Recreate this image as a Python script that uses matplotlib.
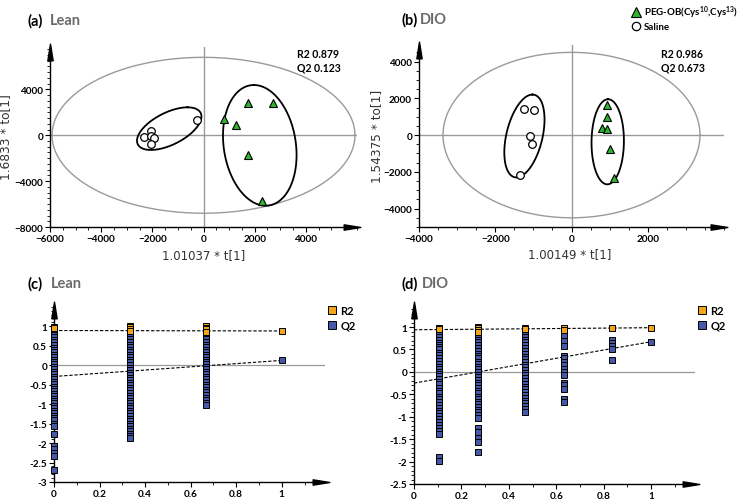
import numpy as np
import matplotlib
matplotlib.use("Agg")
import matplotlib.pyplot as plt
from matplotlib.lines import Line2D
from matplotlib.path import Path
from matplotlib.ticker import MultipleLocator, FormatStrFormatter

plt.rcParams["font.family"] = ["Lato", "DejaVu Sans"]
plt.rcParams["mathtext.default"] = "regular"

# ---------------- score plots: (a) Lean, (b) DIO ----------------
lean_saline_x = [-260, -2050, -2330, -2050, -1950, -2050]
lean_saline_y = [1340, 380, -150, -100, -250, -780]
lean_peg_x = [1750, 2710, 810, 1280, 1750, 2300]
lean_peg_y = [2780, 2780, 1400, 940, -1750, -5760]

dio_saline_x = [-1255, -985, -1080, -1040, -1360]
dio_saline_y = [1420, 1380, -50, -510, -2150]
dio_peg_x = [940, 940, 800, 940, 1010, 1110]
dio_peg_y = [1640, 1000, 370, 330, -780, -2310]

lean_r2q2 = (0.879, 0.123)
dio_r2q2 = (0.986, 0.673)

# Hotelling T2 ellipse half-widths (x, y)
lean_t2 = (5920, 6800)
dio_t2 = (3370, 4500)

# group ellipses: centre + two conjugate half-diameters
lean_saline_ell = [(-1340, 580), (715, 1860), (1037, 0)]
lean_peg_ell = [(2200, -880), (-230, 5265), (1420, 0)]
dio_saline_ell = [(-1235, -50), (210, 2255), (484, 0)]
dio_peg_ell = [(950, -365), (10, 2315), (425, 0)]

# ---------------- permutation plots: (c) Lean, (d) DIO ----------------
lean_perm_x = [0.0, 0.333, 0.667]
lean_perm_r2 = [
    [0.98, 0.95],
    [1.0, 0.97, 0.93, 0.88],
    [1.0, 0.96, 0.92, 0.86],
]
lean_perm_q2 = [
    [0.9, 0.85, 0.78, 0.72, 0.65, 0.6, 0.52, 0.45, 0.4, 0.33, 0.27, 0.2, 0.13,
     0.08, 0.02, -0.05, -0.1, -0.17, -0.22, -0.3, -0.36, -0.42, -0.48, -0.55,
     -0.6, -0.67, -0.73, -0.8, -0.86, -0.92, -0.98, -1.05, -1.1, -1.17, -1.23,
     -1.3, -1.36, -1.42, -1.5, -1.55, -1.76, -2.08, -2.15, -2.25, -2.32, -2.68],
    [0.92, 0.86, 0.8, 0.73, 0.66, 0.6, 0.53, 0.47, 0.4, 0.33, 0.27, 0.2, 0.14,
     0.07, 0.0, -0.06, -0.13, -0.2, -0.26, -0.33, -0.39, -0.46, -0.52, -0.59,
     -0.65, -0.72, -0.78, -0.85, -0.91, -0.98, -1.04, -1.11, -1.17, -1.24,
     -1.3, -1.37, -1.43, -1.5, -1.56, -1.63, -1.69, -1.76, -1.82, -1.88],
    [0.72, 0.66, 0.6, 0.53, 0.47, 0.4, 0.34, 0.27, 0.2, 0.14, 0.08, 0.02,
     -0.04, -0.1, -0.17, -0.23, -0.3, -0.36, -0.43, -0.5, -0.56, -0.63, -0.7,
     -0.76, -0.83, -0.9, -0.97, -1.02],
]
lean_intercepts = (0.89, -0.29)
lean_yticks = [-3, -2.5, -2, -1.5, -1, -0.5, 0, 0.5, 1]

dio_perm_x = [0.104, 0.27, 0.468, 0.634, 0.834]
dio_perm_r2 = [
    [0.99, 0.96],
    [1.0, 0.97, 0.94, 0.9],
    [0.99, 0.96],
    [0.99, 0.94],
    [0.99, 0.97],
]
dio_perm_q2 = [
    [0.85, 0.78, 0.72, 0.65, 0.6, 0.55, 0.5, 0.42, 0.37, 0.3, 0.25, 0.18, 0.12,
     0.06, 0.0, -0.05, -0.1, -0.15, -0.22, -0.28, -0.35, -0.42, -0.48, -0.55,
     -0.6, -0.67, -0.73, -0.8, -0.87, -0.92, -0.98, -1.05, -1.12, -1.18,
     -1.25, -1.32, -1.38, -1.9, -1.98],
    [0.78, 0.72, 0.66, 0.6, 0.53, 0.47, 0.4, 0.35, 0.3, 0.23, 0.18, 0.12, 0.06,
     0.0, -0.06, -0.12, -0.18, -0.24, -0.3, -0.36, -0.42, -0.48, -0.55, -0.6,
     -0.66, -0.72, -0.78, -0.85, -0.9, -0.96, -1.03, -1.25, -1.33, -1.48,
     -1.57, -1.78],
    [0.85, 0.78, 0.72, 0.66, 0.6, 0.53, 0.47, 0.4, 0.34, 0.28, 0.22, 0.16, 0.1,
     0.04, -0.02, -0.08, -0.14, -0.2, -0.26, -0.33, -0.39, -0.45, -0.52,
     -0.58, -0.64, -0.7, -0.77, -0.83, -0.9],
    [0.8, 0.7, 0.57, 0.35, 0.3, 0.22, 0.15, 0.07, 0.0, -0.06, -0.24, -0.3,
     -0.38, -0.6, -0.67],
    [0.72, 0.64, 0.57, 0.5, 0.27],
]
dio_intercepts = (0.94, -0.25)
dio_yticks = [-2.5, -2, -1.5, -1, -0.5, 0, 0.5, 1]

perm_xticks = [0, 0.2, 0.4, 0.6, 0.8, 1]

GREEN = "#2fb52f"
ORANGE = "#f2a51a"
BLUE = "#4658aa"
GREY_T = "#6b6b6b"

W, H = 738, 502
fig = plt.figure(figsize=(W / 100, H / 100), dpi=100)


def px_axes(left, top, right, bottom):
    return fig.add_axes([left / W, 1 - bottom / H, (right - left) / W, (bottom - top) / H])


# long thin arrow heads
arrow_r = Path([(-1, -0.32), (1, 0), (-1, 0.32), (-1, -0.32)],
               [Path.MOVETO, Path.LINETO, Path.LINETO, Path.CLOSEPOLY])
arrow_u = Path([(-0.32, -1), (0, 1), (0.32, -1), (-0.32, -1)],
               [Path.MOVETO, Path.LINETO, Path.LINETO, Path.CLOSEPOLY])


def style_axes(ax):
    for s in ["top", "right"]:
        ax.spines[s].set_visible(False)
    ax.spines["left"].set_linewidth(1.0)
    ax.spines["bottom"].set_linewidth(1.0)
    ax.tick_params(which="major", direction="out", length=3.5, width=0.8,
                   labelsize=7.2, pad=1.5)
    ax.tick_params(which="minor", direction="out", length=2, width=0.6)
    for lab in ax.get_xticklabels() + ax.get_yticklabels():
        lab.set_fontweight("bold")
    ax.plot(0.985, 0, marker=arrow_r, ms=12, color="k", transform=ax.transAxes,
            clip_on=False, zorder=6)
    ax.plot(0, 0.975, marker=arrow_u, ms=12, color="k", transform=ax.transAxes,
            clip_on=False, zorder=6)


def draw_ellipse(ax, ell, **kw):
    (cx, cy), u, v = ell
    t = np.linspace(0, 2 * np.pi, 300)
    ax.plot(cx + u[0] * np.cos(t) + v[0] * np.sin(t),
            cy + u[1] * np.cos(t) + v[1] * np.sin(t), **kw)


def score_panel(ax, sal_x, sal_y, peg_x, peg_y, t2, ells, r2q2,
                xlim, ylim, xticks, yticks, xlabel, ylabel, txt_pos, xl_pos, yl_pos):
    ax.axhline(0, color="#9a9a9a", lw=1.0, zorder=1)
    ax.axvline(0, color="#9a9a9a", lw=1.0, zorder=1)
    t = np.linspace(0, 2 * np.pi, 300)
    ax.plot(t2[0] * np.cos(t), t2[1] * np.sin(t), color="#9a9a9a", lw=1.0, zorder=1)
    for e in ells:
        draw_ellipse(ax, e, color="k", lw=1.3, zorder=2)
    ax.plot(sal_x, sal_y, "o", ms=5.5, mfc="white", mec="k", mew=0.9, ls="none", zorder=3)
    ax.plot(peg_x, peg_y, "^", ms=6, mfc=GREEN, mec="k", mew=0.8, ls="none", zorder=3)
    ax.set_xlim(*xlim)
    ax.set_ylim(*ylim)
    ax.set_xticks(xticks)
    ax.set_yticks(yticks)
    ax.xaxis.set_minor_locator(MultipleLocator(500))
    ax.yaxis.set_minor_locator(MultipleLocator(500))
    style_axes(ax)
    ax.text(txt_pos[0], txt_pos[1], f"R2 {r2q2[0]:.3f}\nQ2 {r2q2[1]:.3f}",
            transform=ax.transAxes, fontsize=7.6, fontweight="bold",
            va="top", ha="left", linespacing=1.3)
    ax.set_xlabel(xlabel, fontsize=8.5, family="DejaVu Sans", color="#333333")
    ax.set_ylabel(ylabel, fontsize=8.7, family="DejaVu Sans", color="#333333")
    ax.xaxis.set_label_coords(*xl_pos)
    ax.yaxis.set_label_coords(*yl_pos)


def perm_panel(ax, xs, r2s, q2s, final, intercepts, xlim, ylim, yticks):
    ax.axhline(0, color="#9a9a9a", lw=0.9, zorder=1)
    ax.plot([0, 1], [intercepts[0], final[0]], color="k", lw=0.8,
            dashes=(3, 1.6), zorder=2)
    ax.plot([0, 1], [intercepts[1], final[1]], color="k", lw=0.8,
            dashes=(3, 1.6), zorder=2)
    for x, r2, q2 in zip(xs, r2s, q2s):
        ax.plot([x] * len(q2), q2, "s", ms=5, mfc=BLUE, mec="k", mew=0.7,
                ls="none", zorder=3, clip_on=False)
        ax.plot([x] * len(r2), r2, "s", ms=5, mfc=ORANGE, mec="k", mew=0.7,
                ls="none", zorder=4, clip_on=False)
    ax.plot(1, final[1], "s", ms=5, mfc=BLUE, mec="k", mew=0.7, zorder=4)
    ax.plot(1, final[0], "s", ms=5, mfc=ORANGE, mec="k", mew=0.7, zorder=4)
    ax.set_xlim(*xlim)
    ax.set_ylim(*ylim)
    ax.set_xticks(perm_xticks)
    ax.set_yticks(yticks)
    ax.xaxis.set_minor_locator(MultipleLocator(0.1))
    ax.yaxis.set_minor_locator(MultipleLocator(0.1))
    fmt = FormatStrFormatter("%g")
    ax.xaxis.set_major_formatter(fmt)
    ax.yaxis.set_major_formatter(fmt)
    style_axes(ax)


ax_a = px_axes(50, 48, 357, 228)
score_panel(ax_a, lean_saline_x, lean_saline_y, lean_peg_x, lean_peg_y, lean_t2,
            [lean_saline_ell, lean_peg_ell], lean_r2q2,
            (-6000, 6000), (-8000, 7700),
            [-6000, -4000, -2000, 0, 2000, 4000], [-8000, -4000, 0, 4000],
            "1.01037 * t[1]", "1.6833 * to[1]",
            (0.805, 0.995), (0.5, -0.115), (-0.125, 0.505))

ax_b = px_axes(419, 46, 724, 228)
score_panel(ax_b, dio_saline_x, dio_saline_y, dio_peg_x, dio_peg_y, dio_t2,
            [dio_saline_ell, dio_peg_ell], dio_r2q2,
            (-4000, 4000), (-5000, 4900),
            [-4000, -2000, 0, 2000], [-4000, -2000, 0, 2000, 4000],
            "1.00149 * t[1]", "1.54375 * to[1]",
            (0.795, 0.985), (0.495, -0.11), (-0.118, 0.505))

ax_c = px_axes(54, 307, 325, 483)
perm_panel(ax_c, lean_perm_x, lean_perm_r2, lean_perm_q2, lean_r2q2,
           lean_intercepts, (0, 1.19), (-3, 1.52), lean_yticks)

ax_d = px_axes(414, 307, 695, 485)
perm_panel(ax_d, dio_perm_x, dio_perm_r2, dio_perm_q2, dio_r2q2,
           dio_intercepts, (0, 1.185), (-2.5, 1.47), dio_yticks)

# panel titles
for lx, tx, y, lab, name in [(28, 50, 21, "(a)", "Lean"), (402, 420, 20, "(b)", "DIO"),
                             (27, 51, 284, "(c)", "Lean"), (402, 422, 284, "(d)", "DIO")]:
    fig.text(lx / W, 1 - y / H, lab, fontsize=10.5, fontweight="bold", va="center")
    fig.text(tx / W, 1 - y / H, name, fontsize=10.5, fontweight="bold",
             color=GREY_T, va="center")

# group legend (top right)
grp_handles = [
    Line2D([], [], marker="^", ms=7, mfc=GREEN, mec="k", mew=0.8, ls="none"),
    Line2D([], [], marker="o", ms=6, mfc="white", mec="k", mew=0.9, ls="none"),
]
fig.legend(grp_handles, ["PEG-OB(Cys$^{10}$,Cys$^{13}$)", "Saline"],
           loc="upper left", bbox_to_anchor=(627 / W, 1 - 0 / H), frameon=False,
           borderpad=0, handlelength=0.9, handletextpad=0.3, labelspacing=0.2,
           prop={"size": 7.0, "weight": "bold"})

# R2 / Q2 legends
perm_handles = [
    Line2D([], [], marker="s", ms=5.5, mfc=ORANGE, mec="k", mew=0.7, ls="none"),
    Line2D([], [], marker="s", ms=5.5, mfc=BLUE, mec="k", mew=0.7, ls="none"),
]
for x0 in (322, 692):
    fig.legend(perm_handles, ["R2", "Q2"], loc="upper left",
               bbox_to_anchor=(x0 / W, 1 - 300 / H), frameon=False, borderpad=0,
               handlelength=0.8, handletextpad=0.35, labelspacing=0.35,
               prop={"size": 8, "weight": "bold"})

fig.savefig("out.png", dpi=100)
